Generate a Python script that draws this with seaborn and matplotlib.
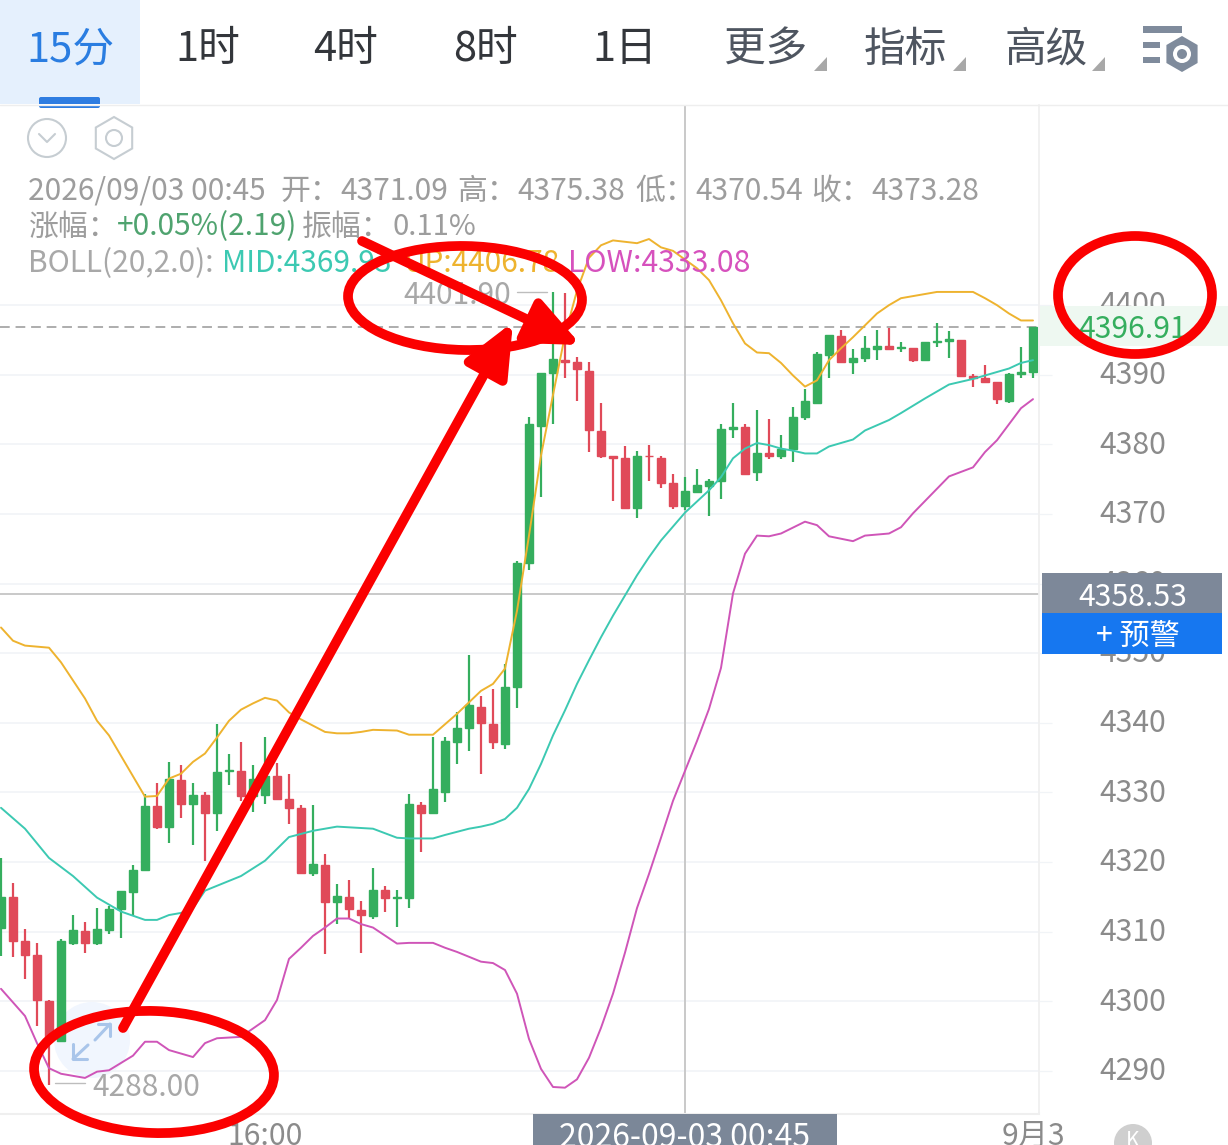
import numpy as np
import pandas as pd
import seaborn as sns
import matplotlib.pyplot as plt
from matplotlib.patches import Circle, Ellipse, FancyBboxPatch, Polygon, Rectangle, RegularPolygon
from matplotlib.transforms import ScaledTranslation

opens = [4310.6, 4315.0, 4308.7, 4306.7, 4300.1, 4294.3, 4308.4, 4310.1, 4308.4, 4310.3, 4313.3, 4315.7, 4318.8, 4328.0, 4325.1,
         4331.8, 4328.4, 4329.7, 4327.0, 4333.1, 4333.1, 4329.5, 4329.7, 4332.3, 4329.1, 4327.8, 4318.5, 4319.6, 4314.3, 4315.0,
         4313.1, 4312.3, 4316.0, 4314.9, 4314.9, 4328.2, 4327.0, 4330.0, 4337.3, 4339.2, 4342.3, 4339.9, 4337.0, 4345.1, 4363.0,
         4382.7, 4390.2, 4392.1, 4391.9, 4390.6, 4381.9, 4378.3, 4378.1, 4370.9, 4378.4, 4378.1, 4374.5, 4371.09, 4373.2, 4374.0,
         4374.8, 4382.2, 4382.5, 4376.0, 4378.7, 4378.3, 4379.4, 4384.0, 4386.0, 4392.8, 4395.5, 4391.8, 4392.4, 4393.7, 4394.1,
         4393.8, 4393.8, 4392.1, 4394.7, 4394.8, 4395.0, 4389.8, 4389.5, 4388.9, 4386.2, 4390.1, 4390.4]
highs = [4320.6, 4317.0, 4310.4, 4308.4, 4300.2, 4309.0, 4312.4, 4311.4, 4313.4, 4313.7, 4315.9, 4319.6, 4329.8, 4331.4, 4334.4,
         4334.0, 4331.4, 4330.0, 4339.9, 4335.6, 4337.2, 4333.9, 4337.9, 4334.3, 4332.6, 4328.2, 4328.2, 4321.1, 4316.9, 4317.5,
         4314.4, 4319.2, 4316.5, 4316.0, 4329.8, 4328.7, 4338.0, 4337.9, 4341.6, 4349.7, 4343.8, 4344.9, 4348.5, 4363.3, 4384.0,
         4390.2, 4401.9, 4401.7, 4392.5, 4391.8, 4386.0, 4378.4, 4379.7, 4379.1, 4379.9, 4378.3, 4375.8, 4375.38, 4376.4, 4375.0,
         4383.0, 4385.9, 4383.0, 4385.0, 4383.6, 4381.4, 4385.3, 4387.9, 4393.2, 4395.7, 4396.5, 4393.7, 4395.5, 4396.5, 4396.7,
         4394.7, 4393.8, 4394.7, 4397.5, 4396.3, 4395.0, 4390.1, 4391.4, 4388.9, 4390.2, 4394.0, 4396.91]
lows = [4306.5, 4306.4, 4303.2, 4296.5, 4288.0, 4294.3, 4308.1, 4307.0, 4308.1, 4309.7, 4309.1, 4312.3, 4318.8, 4324.7, 4322.8,
        4326.4, 4322.5, 4320.1, 4324.5, 4331.1, 4328.8, 4327.2, 4328.4, 4329.1, 4325.5, 4318.3, 4318.0, 4306.8, 4311.1, 4312.0,
        4307.0, 4311.9, 4312.9, 4310.7, 4313.4, 4321.5, 4327.0, 4328.7, 4334.1, 4336.0, 4332.6, 4336.2, 4336.2, 4342.2, 4361.9,
        4372.4, 4383.0, 4389.6, 4386.2, 4378.9, 4378.1, 4371.8, 4370.9, 4369.4, 4374.8, 4373.7, 4370.7, 4370.54, 4373.0, 4369.7,
        4372.1, 4380.9, 4375.8, 4374.8, 4377.9, 4377.9, 4377.4, 4383.5, 4386.0, 4389.6, 4391.9, 4390.1, 4391.8, 4392.1, 4393.7,
        4393.2, 4391.8, 4392.1, 4394.0, 4392.4, 4389.8, 4388.3, 4388.9, 4385.8, 4386.0, 4389.6, 4389.5]
closes = [4315.0, 4308.7, 4306.7, 4300.2, 4294.3, 4308.7, 4310.3, 4308.4, 4310.4, 4313.3, 4315.9, 4318.9, 4328.1, 4325.1, 4332.0,
          4328.4, 4329.7, 4327.0, 4333.0, 4333.3, 4329.5, 4332.0, 4332.3, 4329.1, 4327.8, 4318.5, 4319.8, 4314.3, 4315.2, 4313.3,
          4312.4, 4316.0, 4314.9, 4315.0, 4328.4, 4327.0, 4330.5, 4337.4, 4339.3, 4342.5, 4340.0, 4337.2, 4345.1, 4363.0, 4382.9,
          4390.2, 4392.2, 4391.9, 4390.8, 4382.0, 4378.3, 4378.1, 4370.9, 4378.4, 4378.3, 4374.5, 4371.1, 4373.28, 4374.1, 4374.8,
          4382.2, 4382.5, 4375.8, 4378.7, 4378.4, 4379.4, 4384.0, 4386.2, 4393.0, 4395.7, 4391.9, 4392.4, 4393.8, 4394.2, 4393.7,
          4394.0, 4392.1, 4394.7, 4394.8, 4395.1, 4389.8, 4389.6, 4388.9, 4386.5, 4390.1, 4390.4, 4396.91]

up_idx = [0, 1, 2, 4, 5, 6, 7, 8, 9, 12, 13, 14, 15, 16, 17, 18, 19, 20, 21, 22, 23, 24, 25, 27, 28, 29, 30, 31, 33, 34, 36, 38, 40, 41,
          42, 43, 44, 45, 46, 47, 48, 49, 50, 51, 53, 54, 55, 56, 58, 59, 60, 61, 62, 63, 64, 65, 66, 67, 68, 69, 70, 71, 72, 73, 74,
          75, 76, 77, 78, 81, 82, 83, 84, 85, 86]
up_vals = [4353.7, 4351.8, 4351.1, 4350.8, 4348.7, 4346.1, 4343.5, 4340.3, 4338.2, 4329.4, 4329.5, 4332.0, 4332.7, 4334.4, 4335.6,
           4337.9, 4340.3, 4341.9, 4342.8, 4343.6, 4343.2, 4341.5, 4340.5, 4338.7, 4338.5, 4338.5, 4338.7, 4339.0, 4338.9, 4338.3,
           4338.3, 4341.3, 4344.6, 4345.6, 4347.8, 4356.1, 4366.9, 4378.4, 4387.1, 4395.7, 4402.1, 4406.8, 4408.6, 4409.3, 4408.9,
           4409.5, 4408.3, 4407.8, 4405.3, 4403.6, 4400.7, 4397.4, 4394.5, 4393.2, 4393.1, 4391.7, 4389.9, 4388.3, 4389.2, 4392.1,
           4393.8, 4395.4, 4397.1, 4398.8, 4400.0, 4401.0, 4401.3, 4401.6, 4401.9, 4401.9, 4401.0, 4400.0, 4398.8, 4397.8, 4397.8]

mid_idx = [0, 2, 4, 6, 8, 10, 12, 13, 14, 15, 16, 17, 19, 20, 22, 23, 24, 26, 28, 31, 33, 34, 36, 37, 39, 40, 41, 42, 43, 44, 45, 46, 47,
           48, 49, 50, 51, 52, 53, 54, 55, 57, 59, 60, 61, 62, 63, 64, 65, 66, 67, 68, 69, 71, 72, 74, 75, 77, 79, 81, 83, 84, 85, 86]
mid_vals = [4327.8, 4324.8, 4320.6, 4318.0, 4314.9, 4312.9, 4311.7, 4311.7, 4312.4, 4312.7, 4313.4, 4315.9, 4317.3, 4318.0, 4320.2,
            4321.9, 4323.6, 4324.5, 4325.1, 4324.8, 4323.5, 4323.4, 4323.4, 4323.9, 4324.8, 4325.1, 4325.5, 4326.2, 4327.8, 4330.5,
            4334.1, 4338.2, 4341.8, 4345.6, 4349.0, 4352.3, 4355.4, 4358.3, 4361.2, 4363.8, 4366.2, 4370.2, 4373.4, 4375.3, 4378.0,
            4379.4, 4380.2, 4379.9, 4379.4, 4379.1, 4378.7, 4378.7, 4379.7, 4380.7, 4382.0, 4383.5, 4384.5, 4386.6, 4388.6, 4389.4,
            4390.4, 4390.9, 4391.7, 4392.1]

low_idx = [0, 2, 3, 4, 5, 7, 8, 9, 11, 12, 13, 14, 16, 17, 18, 20, 22, 23, 24, 25, 26, 27, 28, 29, 30, 31, 33, 34, 36, 37, 38, 39, 40, 41,
           42, 43, 44, 45, 46, 47, 48, 49, 50, 51, 52, 53, 54, 55, 56, 57, 58, 59, 60, 61, 62, 63, 64, 65, 67, 68, 69, 71, 72, 74, 75,
           76, 79, 81, 82, 83, 85, 86]
low_vals = [4301.8, 4297.9, 4294.0, 4290.4, 4289.6, 4289.0, 4289.9, 4290.1, 4292.2, 4294.2, 4294.2, 4293.0, 4292.0, 4294.0, 4294.7,
            4294.9, 4297.3, 4300.2, 4306.1, 4307.7, 4309.4, 4310.6, 4311.9, 4311.9, 4311.1, 4310.6, 4308.3, 4308.4, 4308.4, 4307.7,
            4307.1, 4306.4, 4305.7, 4305.5, 4304.5, 4301.1, 4294.6, 4290.3, 4287.7, 4287.6, 4288.8, 4291.9, 4296.2, 4301.1, 4307.0,
            4313.4, 4318.3, 4323.5, 4328.8, 4333.1, 4337.4, 4342.0, 4347.9, 4358.6, 4364.3, 4366.9, 4366.8, 4367.2, 4368.9, 4368.4,
            4366.8, 4366.1, 4366.9, 4367.2, 4368.1, 4370.1, 4375.4, 4376.7, 4378.9, 4380.6, 4385.2, 4386.5]

price_ticks = [4290, 4300, 4310, 4320, 4330, 4340, 4350, 4360, 4370, 4380, 4390, 4400]
time_ticks = [22, 86]
time_labels = ['16:00', '9月3']
last_price = 4396.91
cross_idx = 57
cross_price = 4358.53

tabs = ['15分', '1时', '4时', '8时', '1日', '更多', '指标', '高级']

GREEN = '#35ae5e'
RED = '#e04a59'
TEAL = '#3cc9b2'
AMBER = '#eeb32f'
PINK = '#cf55b8'
GRID = '#f1f4f7'
W, H = 1228, 1145

sns.set_theme(style='white')
plt.rcParams['font.family'] = ['Noto Sans CJK SC', 'DejaVu Sans']

fig = plt.figure(figsize=(W / 100, H / 100), dpi=100, facecolor='white')

# zoom button sits behind the candles
un = fig.add_axes([0, 0, 1, 1], facecolor='none', zorder=-1)
un.set_xlim(0, W)
un.set_ylim(H, 0)
un.axis('off')
un.add_patch(Circle((92, 1040), 38, color='#f1f6fe', lw=0))

ax = fig.add_axes([0, 1 - 1114 / H, 1039 / W, (1114 - 105) / H], facecolor='none')
ax.set_xlim(-1 / 12, 1038 / 12)
ax.set_ylim(4283.82, 4428.75)

df = pd.DataFrame({'open': opens, 'high': highs, 'low': lows, 'close': closes})
df['idx'] = df.index
df['color'] = np.where(df['close'] >= df['open'], GREEN, RED)

# grid + crosshair first
ax.grid(False)
ax.hlines(price_ticks, -1, 102.25, color=GRID, lw=1.2, zorder=0)
ax.axvline(cross_idx, color='#c9c9c9', lw=1.4, zorder=1)
ax.axhline(cross_price, color='#c9c9c9', lw=1.4, zorder=1)
ax.axhline(last_price, color='#adadad', lw=1.4, ls=(0, (5, 3)), zorder=1)

# candles
ax.vlines(df['idx'], df['low'], df['high'], colors=df['color'], lw=1.6, zorder=2)
ax.bar(df['idx'], df['close'] - df['open'], bottom=df['open'], width=0.62, color=df['color'],
       edgecolor=df['color'], linewidth=1.0, zorder=2)

# boll bands
sns.lineplot(x=up_idx, y=up_vals, color=AMBER, lw=1.4, ax=ax, zorder=3, errorbar=None, legend=False)
sns.lineplot(x=mid_idx, y=mid_vals, color=TEAL, lw=1.4, ax=ax, zorder=3, errorbar=None, legend=False)
sns.lineplot(x=low_idx, y=low_vals, color=PINK, lw=1.4, ax=ax, zorder=3, errorbar=None, legend=False)

ax.yaxis.tick_right()
ax.set_yticks(price_ticks)
ax.set_yticklabels([str(p) for p in price_ticks], fontsize=21.7, color='#8b8b8b')
ax.tick_params(axis='y', length=9.4, width=0.9, color=GRID, pad=34, right=True, left=False)
for lab in ax.get_yticklabels():
    lab.set_transform(lab.get_transform() + ScaledTranslation(0, 2 / 72, fig.dpi_scale_trans))
ax.set_xticks(time_ticks)
ax.set_xticklabels(time_labels, fontsize=21.7, color='#8b8b8b')
ax.tick_params(axis='x', length=0, pad=5)
ax.set_xlabel('')
ax.set_ylabel('')
for s in ['top', 'left']:
    ax.spines[s].set_visible(False)
ax.spines['right'].set_color('#f0f0f0')
ax.spines['bottom'].set_color('#efefef')
ax.spines['bottom'].set_linewidth(1.5)

# overlay in pixel coords for the app chrome and the hand drawn marks
ov = fig.add_axes([0, 0, 1, 1], facecolor='none', zorder=5)
ov.set_xlim(0, W)
ov.set_ylim(H, 0)
ov.axis('off')

# header tabs
ov.add_patch(Rectangle((0, 0), 140, 104, color='#e5f0fd', lw=0))
ov.add_patch(FancyBboxPatch((41, 99), 57, 7, boxstyle='round,pad=2', color='#2f7de1', lw=0))
ov.add_patch(Rectangle((0, 104), 140, 2, color='white', lw=0))
ov.plot([0, W], [104.5, 104.5], color='#eeeeee', lw=1)
tab_x = [70, 208, 346, 485, 625, 766, 905, 1046]
tab_c = ['#2a7de1', '#33363b', '#33363b', '#33363b', '#33363b', '#4e5560', '#4e5560', '#4e5560']
for name, x, c in zip(tabs, tab_x, tab_c):
    ov.text(x, 50, name, ha='center', va='center', fontsize=30, color=c)
for x in [814, 953, 1092]:
    ov.add_patch(Polygon([(x, 71), (x + 13, 57), (x + 13, 71)], color='#a8a8a8', lw=0))
ICON = '#7f8b9c'
ov.add_patch(Rectangle((1143, 26), 39, 7, color=ICON, lw=0))
ov.add_patch(Rectangle((1143, 42), 17, 6, color=ICON, lw=0))
ov.add_patch(Rectangle((1143, 57), 17, 6, color=ICON, lw=0))
ov.add_patch(RegularPolygon((1182, 54), 6, radius=18, color=ICON, lw=0))
ov.add_patch(Circle((1182, 54), 9, color='#ffffff', lw=0))
ov.add_patch(Circle((1182, 54), 5, color=ICON, lw=0))

# small icons under the tabs
ov.add_patch(Circle((47, 138), 19, fc='none', ec='#c6cdd2', lw=1.5))
ov.plot([39, 47, 55], [134, 142, 134], color='#c6cdd2', lw=1.5)
ov.add_patch(RegularPolygon((114, 138), 6, radius=21, fc='none', ec='#c6cdd2', lw=1.5))
ov.add_patch(Circle((114, 138), 8, fc='none', ec='#c6cdd2', lw=1.5))

# info lines
GREY = '#9d9d9d'
row1 = [(28, '2026/09/03 00:45'), (280, '开：'), (340, '4371.09'), (457, '高：'), (517, '4375.38'),
        (635, '低：'), (695, '4370.54'), (811, '收：'), (871, '4373.28')]
for x, s in row1:
    ov.text(x, 191, s, ha='left', va='center', fontsize=21.5, color=GREY)
ov.text(28, 227, '涨幅：', ha='left', va='center', fontsize=21.5, color=GREY)
ov.text(117, 227, '+0.05%(2.19)', ha='left', va='center', fontsize=21.5, color='#4fa36f')
ov.text(302, 227, '振幅：', ha='left', va='center', fontsize=21.5, color=GREY)
ov.text(392, 227, '0.11%', ha='left', va='center', fontsize=21, color=GREY)
ov.text(28, 264, 'BOLL(20,2.0):', ha='left', va='center', fontsize=21.5, color='#a8a8a8')
ov.text(222, 264, 'MID:4369.93', ha='left', va='center', fontsize=21.5, color=TEAL)
ov.text(403, 264, 'UP:4406.78', ha='left', va='center', fontsize=21.5, color=AMBER)
ov.text(568, 264, 'LOW:4333.08', ha='left', va='center', fontsize=21.7, color='#d651bd')

# high / low tags
ov.text(403, 295, '4401.90', ha='left', va='center', fontsize=21.5, color='#a8a8a8')
ov.plot([517, 547], [292, 292], color='#bdbdbd', lw=1)
ov.text(92, 1087, '4288.00', ha='left', va='center', fontsize=21.5, color='#a8a8a8')
ov.plot([55, 85], [1083, 1083], color='#bdbdbd', lw=1)

# right side tags
ov.add_patch(Rectangle((1040, 306), 188, 40, color='#eef8f1', lw=0))
ov.text(1133, 329, '4396.91', ha='center', va='center', fontsize=21.7, color=GREEN)
ov.add_patch(Rectangle((1042, 573), 180, 40, color='#7d8899', lw=0))
ov.text(1133, 597, '4358.53', ha='center', va='center', fontsize=21.7, color='white')
ov.add_patch(Rectangle((1042, 613), 180, 41, color='#1677f0', lw=0))
ov.text(1138, 636, '+ 预警', ha='center', va='center', fontsize=21.7, color='white')

# bottom time tag and K button
ov.add_patch(Rectangle((533, 1114), 304, 31, color='#7b8798', lw=0))
ov.text(685, 1138, '2026-09-03 00:45', ha='center', va='center', fontsize=23, color='white')
ov.add_patch(Circle((1133, 1143), 19, color='#cfcfcf', lw=0))
ov.text(1133, 1141, 'K', ha='center', va='center', fontsize=15, color='white')

# zoom button arrows
ov.plot([98, 110, 110], [1024, 1024, 1036], color='#a9c5ea', lw=2.2)
ov.plot([95, 110], [1040, 1024], color='#a9c5ea', lw=2.2)
ov.plot([73, 73, 87], [1044, 1059, 1059], color='#a9c5ea', lw=2.2)
ov.plot([73, 88], [1059, 1045], color='#a9c5ea', lw=2.2)

# red marks drawn on the screenshot
MARK = '#fb0000'
for c, w, h, ang in [((154, 1072), 240, 122, 2), ((465, 298), 234, 104, 1), ((1135, 295), 154, 118, 0)]:
    ov.add_patch(Ellipse(c, w, h, angle=ang, fc='none', ec=MARK, lw=7, zorder=6))
for start, end in [((123, 1028), (513, 322)), ((362, 241), (581, 345))]:
    ov.annotate('', xy=end, xytext=start, zorder=7,
                arrowprops=dict(arrowstyle='-|>,head_length=3.2,head_width=1.4', color=MARK, lw=7,
                                mutation_scale=10, shrinkA=0, shrinkB=0))

fig.savefig('out.png', dpi=100)
plt.close(fig)
